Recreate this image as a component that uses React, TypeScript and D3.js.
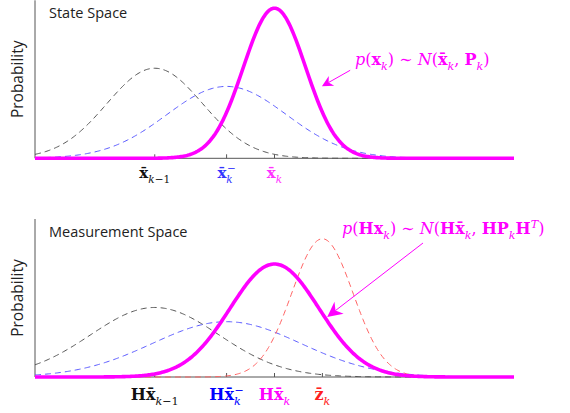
import * as d3 from "d3";

// x domain of both panels and the y range (fraction of panel height)
const xDomain = [0, 10];
const panelTitles = ["State Space", "Measurement Space"];

// state space curves: previous, predicted, updated
const stateNames = ["prev", "pred", "upd"];
const stateMeans = [2.5, 4, 5];
const stateSigmas = [1.0, 1.25, 0.65];
const statePeaks = [0.57, 0.455, 0.95];
const stateColors = ["#555555", "#5a5aff", "#ff00ff"];

// measurement space curves: previous, predicted, updated, measurement
const measNames = ["prev", "pred", "upd", "meas"];
const measMeans = [2.5, 4, 5, 6];
const measSigmas = [1.34, 1.55, 0.93, 0.64];
const measPeaks = [0.44, 0.35, 0.715, 0.875];
const measColors = ["#555555", "#5a5aff", "#ff00ff", "#ff6464"];

type Seg = { t: string; b?: boolean; i?: boolean; sub?: boolean; sup?: boolean; back?: boolean };

const bar = "x\u0304";

const stateTickLabels: Seg[][] = [
  [{ t: bar, b: true }, { t: "k", sub: true, i: true }, { t: "−1", sub: true }],
  [{ t: bar, b: true }, { t: "k", sub: true, i: true }, { t: "−", sup: true, back: true }],
  [{ t: bar, b: true }, { t: "k", sub: true, i: true }],
];
const stateTickColors = ["#111111", "#3535ff", "#ff33ff"];

const measTickLabels: Seg[][] = [
  [{ t: "H" + bar, b: true }, { t: "k", sub: true, i: true }, { t: "−1", sub: true }],
  [{ t: "H" + bar, b: true }, { t: "k", sub: true, i: true }, { t: "−", sup: true, back: true }],
  [{ t: "H" + bar, b: true }, { t: "k", sub: true, i: true }],
  [{ t: "z\u0304", b: true }, { t: "k", sub: true, i: true }],
];
const measTickColors = ["#111111", "#0000ff", "#ff00ff", "#ff2020"];

const stateNote: Seg[] = [
  { t: "p", i: true }, { t: "(" }, { t: "x", b: true }, { t: "k", sub: true, i: true },
  { t: ") ∼ " }, { t: "N", i: true }, { t: "(" }, { t: bar, b: true },
  { t: "k", sub: true, i: true }, { t: ", " }, { t: "P", b: true },
  { t: "k", sub: true, i: true }, { t: ")" },
];
const measNote: Seg[] = [
  { t: "p", i: true }, { t: "(" }, { t: "Hx", b: true }, { t: "k", sub: true, i: true },
  { t: ") ∼ " }, { t: "N", i: true }, { t: "(" }, { t: "H" + bar, b: true },
  { t: "k", sub: true, i: true }, { t: ", " }, { t: "HP", b: true },
  { t: "k", sub: true, i: true }, { t: "H", b: true }, { t: "T", sup: true, i: true }, { t: ")" },
];

// annotation anchors in data units [x, y]
const stateNotePos = [6.68, 0.59];
const stateArrow = [[6.58, 0.557], [5.99, 0.456]];
const measNotePos = [6.41, 0.905];
const measArrow = [[8.1, 0.848], [6.1, 0.38]];

const W = 570;
const H = 413;
const left = 35;
const right = 514;
const panelH = 158;
const baselines = [158.3, 377];
const mathFont = "'DejaVu Serif', 'Liberation Serif', serif";
const sansFont = "'Open Sans', 'Noto Sans', sans-serif";

const samples = d3.range(0, 400.5).map((i) => xDomain[0] + (i / 400) * (xDomain[1] - xDomain[0]));

function MathText({ segs, x, y, size, fill, anchor }: { segs: Seg[]; x: number; y: number; size: number; fill: string; anchor?: string }) {
  let shift = 0;
  const sub = size * 0.3;
  const sup = -size * 0.4;
  return (
    <text x={x} y={y} fill={fill} fontFamily={mathFont} fontSize={size} textAnchor={anchor || "start"}>
      {segs.map((s, k) => {
        const target = s.sub ? sub : s.sup ? sup : 0;
        const dy = target - shift;
        shift = target;
        const dx = s.back ? -size * 0.7 * 0.55 : 0;
        return (
          <tspan
            key={k}
            dy={dy || undefined}
            dx={dx || undefined}
            fontWeight={s.b ? "bold" : "normal"}
            fontStyle={s.i ? "italic" : "normal"}
            fontSize={s.sub || s.sup ? size * 0.7 : size}
          >
            {s.t}
          </tspan>
        );
      })}
    </text>
  );
}

function Arrow({ from, to, color, head }: { from: number[]; to: number[]; color: string; head: number }) {
  const ang = Math.atan2(to[1] - from[1], to[0] - from[0]);
  const ux = Math.cos(ang), uy = Math.sin(ang);
  const px = -uy, py = ux;
  const bx = to[0] - ux * head, by = to[1] - uy * head;
  const nx = to[0] - ux * head * 0.7, ny = to[1] - uy * head * 0.7;
  const hw = head * 0.5;
  const d = `M${to[0]},${to[1]}L${bx + px * hw},${by + py * hw}L${nx},${ny}L${bx - px * hw},${by - py * hw}Z`;
  return (
    <g>
      <line x1={from[0]} y1={from[1]} x2={nx} y2={ny} stroke={color} strokeWidth={1} />
      <path d={d} fill={color} />
    </g>
  );
}

function Panel(props: {
  index: number; means: number[]; sigmas: number[]; peaks: number[]; colors: string[];
  names: string[]; ticks: Seg[][]; tickColors: string[]; note: Seg[]; notePos: number[];
  arrow: number[][]; tickY: number; tickSize: number; head: number;
}) {
  const base = baselines[props.index];
  const x = d3.scaleLinear(xDomain, [left, right]);
  const y = d3.scaleLinear([0, 1], [base, base - panelH]);
  const line = d3.line<number>();
  const paths = props.means.map((m, k) =>
    line.x((v) => x(v)).y((v) => y(props.peaks[k] * Math.exp(-((v - m) ** 2) / (2 * props.sigmas[k] ** 2))))(samples)
  );
  const order = props.names.map((n, k) => k).filter((k) => props.names[k] !== "upd");
  const upd = props.names.indexOf("upd");
  return (
    <g>
      <line x1={left} y1={base - panelH} x2={left} y2={base} stroke="#555" strokeWidth={1} />
      <line x1={left} y1={base} x2={right} y2={base} stroke="#555" strokeWidth={1} />
      {props.means.map((m, k) => (
        <line key={k} x1={x(m)} x2={x(m)} y1={base} y2={base - 4} stroke="#555" strokeWidth={1} />
      ))}
      {order.map((k) => (
        <path key={k} d={paths[k] || ""} fill="none" stroke={props.colors[k]} strokeWidth={1} strokeDasharray="6,4" />
      ))}
      <path d={paths[upd] || ""} fill="none" stroke={props.colors[upd]} strokeWidth={3.6} strokeLinejoin="round" />
      <text x={49} y={base - panelH + 18} fontFamily={sansFont} fontSize={14.5} fill="#222">
        {panelTitles[props.index]}
      </text>
      <text
        transform={`translate(23,${base - panelH / 2}) rotate(-90)`}
        textAnchor="middle"
        fontFamily={sansFont}
        fontSize={15.5}
        fill="#222"
      >
        Probability
      </text>
      {props.means.map((m, k) => (
        <MathText key={k} segs={props.ticks[k]} x={x(m)} y={base + props.tickY} size={props.tickSize} fill={props.tickColors[k]} anchor="middle" />
      ))}
      <MathText segs={props.note} x={x(props.notePos[0])} y={y(props.notePos[1])} size={16} fill="#ff00ff" />
      <Arrow
        from={[x(props.arrow[0][0]), y(props.arrow[0][1])]}
        to={[x(props.arrow[1][0]), y(props.arrow[1][1])]}
        color="#ff00ff"
        head={props.head}
      />
    </g>
  );
}

export default function App() {
  return (
    <svg width={W} height={H} viewBox={`0 0 ${W} ${H}`} style={{ position: "absolute", left: 0, top: 0, background: "#fff" }}>
      <Panel
        index={0} means={stateMeans} sigmas={stateSigmas} peaks={statePeaks} colors={stateColors}
        names={stateNames} ticks={stateTickLabels} tickColors={stateTickColors}
        note={stateNote} notePos={stateNotePos} arrow={stateArrow} tickY={20} tickSize={15} head={11}
      />
      <Panel
        index={1} means={measMeans} sigmas={measSigmas} peaks={measPeaks} colors={measColors}
        names={measNames} ticks={measTickLabels} tickColors={measTickColors}
        note={measNote} notePos={measNotePos} arrow={measArrow} tickY={23} tickSize={16} head={15}
      />
    </svg>
  );
}
